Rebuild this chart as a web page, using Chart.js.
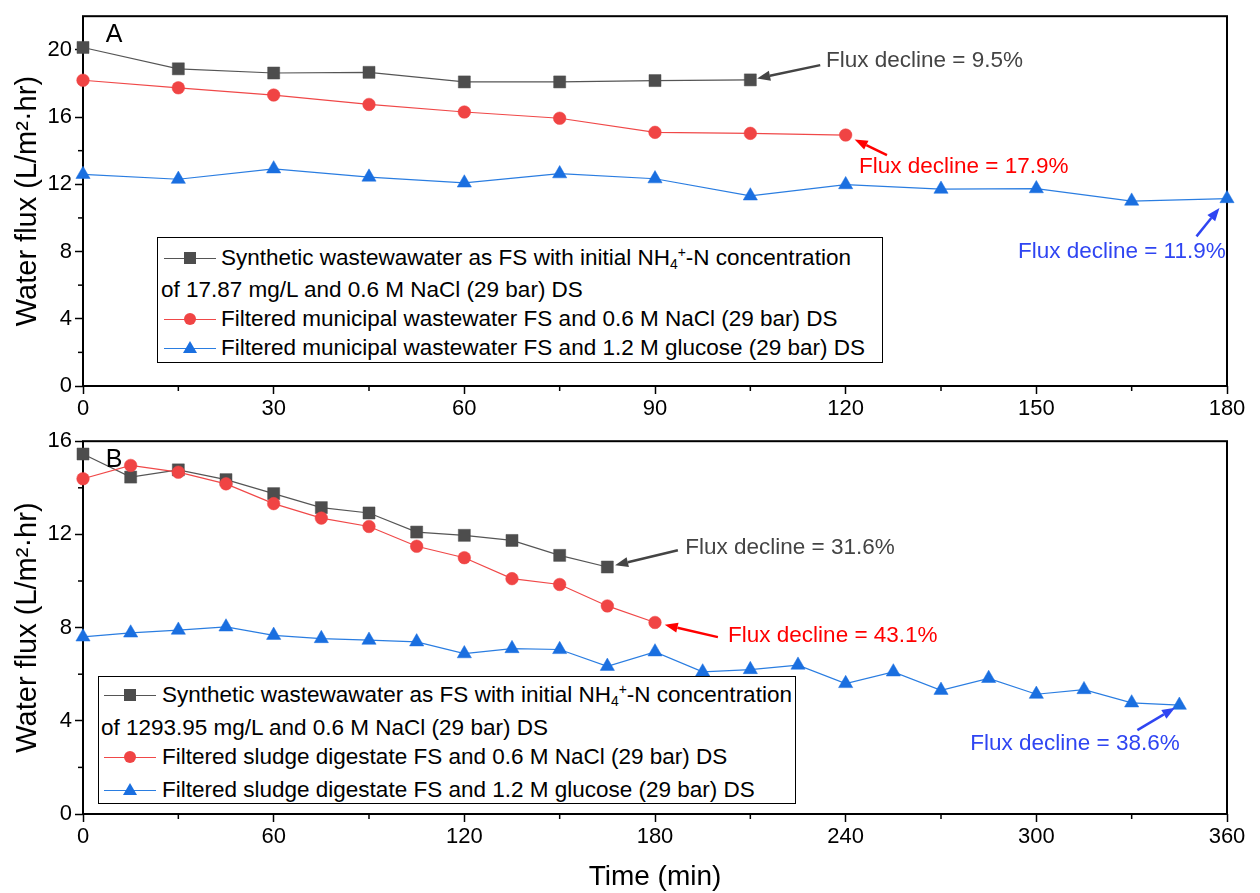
<!DOCTYPE html>
<html>
<head>
<meta charset="utf-8">
<script src="https://cdn.jsdelivr.net/npm/chart.js@4.4.0/dist/chart.umd.min.js"></script>
<style>
  body { margin: 0; background: #fff; font-family: "Liberation Sans", Arial, sans-serif; }
  #wrap { position: relative; width: 1260px; height: 893px; overflow: hidden; }
  canvas { position: absolute; left: 0; }
  .legend { position: absolute; border: 1px solid #000; background: #fff; font-size: 22.5px; color: #000; z-index: 2; }
  .row { position: absolute; white-space: nowrap; height: 30px; line-height: 30px; }
  .line { position: absolute; top: 15px; width: 52px; height: 0; border-top: 1px solid; }
  .sq { position: absolute; top: 9px; width: 12px; height: 12px; background: #4d4d4d; }
  .ci { position: absolute; top: 9px; width: 12px; height: 12px; border-radius: 50%; background: #f04444; }
  .tr { position: absolute; top: 8px; width: 0; height: 0; border-left: 7px solid transparent; border-right: 7px solid transparent; border-bottom: 12px solid #1a6fe0; }
  sub, sup { font-size: 0.62em; line-height: 0; }
  sub { vertical-align: -0.3em; }
  sup { vertical-align: 0.55em; }
</style>
</head>
<body>
<div id="wrap">
  <canvas id="chartA" width="1260" height="425" style="top:0"></canvas>
  <canvas id="chartB" width="1260" height="468" style="top:425px"></canvas>

  <div class="legend" style="left:157px; top:237px; width:724px; height:124px;">
    <div class="row" style="top:5px; left:0">
      <span class="line" style="left:6px; border-color:#555"></span><span class="sq" style="left:26px"></span>
      <span style="position:absolute; left:63px">Synthetic wastewawater as FS with initial NH<sub>4</sub><sup>+</sup>-N concentration</span>
    </div>
    <div class="row" style="top:37px; left:3px">of 17.87 mg/L and 0.6 M NaCl (29 bar) DS</div>
    <div class="row" style="top:66px; left:0">
      <span class="line" style="left:6px; border-color:#f04848"></span><span class="ci" style="left:26px"></span>
      <span style="position:absolute; left:63px">Filtered municipal wastewater FS and 0.6 M NaCl (29 bar) DS</span>
    </div>
    <div class="row" style="top:95px; left:0">
      <span class="line" style="left:6px; border-color:#2a7de1"></span><span class="tr" style="left:25px"></span>
      <span style="position:absolute; left:63px">Filtered municipal wastewater FS and 1.2 M glucose (29 bar) DS</span>
    </div>
  </div>

  <div class="legend" style="left:98px; top:676px; width:696px; height:126px;">
    <div class="row" style="top:3px; left:0">
      <span class="line" style="left:5px; border-color:#555"></span><span class="sq" style="left:25px"></span>
      <span style="position:absolute; left:63px">Synthetic wastewawater as FS with initial NH<sub>4</sub><sup>+</sup>-N concentration</span>
    </div>
    <div class="row" style="top:36px; left:2px">of 1293.95 mg/L and 0.6 M NaCl (29 bar) DS</div>
    <div class="row" style="top:65px; left:0">
      <span class="line" style="left:5px; border-color:#f04848"></span><span class="ci" style="left:25px"></span>
      <span style="position:absolute; left:63px">Filtered sludge digestate FS and 0.6 M NaCl (29 bar) DS</span>
    </div>
    <div class="row" style="top:98px; left:0">
      <span class="line" style="left:5px; border-color:#2a7de1"></span><span class="tr" style="left:24px"></span>
      <span style="position:absolute; left:63px">Filtered sludge digestate FS and 1.2 M glucose (29 bar) DS</span>
    </div>
  </div>
</div>

<script>
// panel A - municipal wastewater
const timeA = [0, 15, 30, 45, 60, 75, 90, 105, 120, 135, 150, 165, 180];
const synthA = [20.14, 18.87, 18.62, 18.66, 18.09, 18.09, 18.17, 18.21];
const muniNaclA = [18.19, 17.74, 17.31, 16.75, 16.3, 15.93, 15.09, 15.03, 14.93];
const muniGlucoseA = [12.59, 12.3, 12.92, 12.43, 12.08, 12.63, 12.33, 11.31, 11.98, 11.71, 11.74, 11.0, 11.15];
const xTicksA = [0, 30, 60, 90, 120, 150, 180];
const yTicksA = [0, 4, 8, 12, 16, 20];

// panel B - sludge digestate
const timeB = [0, 15, 30, 45, 60, 75, 90, 105, 120, 135, 150, 165, 180, 195, 210, 225, 240, 255, 270, 285, 300, 315, 330, 345];
const synthB = [15.45, 14.46, 14.77, 14.35, 13.75, 13.15, 12.92, 12.1, 11.96, 11.74, 11.1, 10.6];
const sludgeNaclB = [14.39, 14.96, 14.67, 14.17, 13.32, 12.7, 12.34, 11.49, 11.0, 10.1, 9.85, 8.93, 8.22];
const sludgeGlucoseB = [7.6, 7.77, 7.89, 8.03, 7.67, 7.53, 7.46, 7.39, 6.88, 7.1, 7.06, 6.34, 6.96, 6.1, 6.2, 6.39, 5.6, 6.1, 5.31, 5.82, 5.14, 5.34, 4.77, 4.67];
const xTicksB = [0, 60, 120, 180, 240, 300, 360];
const yTicksB = [0, 4, 8, 12, 16];

// flux decline labels: text, series index, where the text starts and where the arrow tail sits (data units)
const notesA = [
  { text: 'Flux decline = 9.5%', color: '#444444', series: 0, textAt: [116.9, 19.33], tail: [116, 19.09], gap: 7 },
  { text: 'Flux decline = 17.9%', color: '#ff0000', series: 1, textAt: [122.1, 13.02], tail: [126.5, 13.73], gap: 10 },
  { text: 'Flux decline = 11.9%', color: '#2f45f2', series: 2, textAt: [147.1, 7.97], tail: [175.2, 8.9], gap: 12 }
];
const notesB = [
  { text: 'Flux decline = 31.6%', color: '#444444', series: 0, textAt: [189.5, 11.44], tail: [187.2, 11.32], gap: 8 },
  { text: 'Flux decline = 43.1%', color: '#ff0000', series: 1, textAt: [203, 7.63], tail: [199.8, 7.59], gap: 10 },
  { text: 'Flux decline = 38.6%', color: '#2f45f2', series: 2, textAt: [279.2, 3.0], tail: [331.8, 3.6], gap: 5 }
];

Chart.defaults.font.family = '"Liberation Sans", Arial, sans-serif';
Chart.defaults.color = '#000';

function toPoints(times, values) {
  return values.map((v, i) => ({ x: times[i], y: v }));
}

function midpoints(ticks) {
  const out = [];
  for (let i = 1; i < ticks.length; i++) out.push((ticks[i - 1] + ticks[i]) / 2);
  return out;
}

// frame around the plot plus the short minor ticks
function framePlugin(xTicks, yTicks) {
  return {
    id: 'frame',
    beforeDatasetsDraw(chart) {
      const { ctx, chartArea: a, scales } = chart;
      ctx.save();
      ctx.strokeStyle = '#000';
      ctx.lineWidth = 1.5;
      midpoints(xTicks).forEach(v => {
        const px = scales.x.getPixelForValue(v);
        ctx.beginPath(); ctx.moveTo(px, a.bottom); ctx.lineTo(px, a.bottom + 5); ctx.stroke();
      });
      midpoints(yTicks).forEach(v => {
        const py = scales.y.getPixelForValue(v);
        ctx.beginPath(); ctx.moveTo(a.left, py); ctx.lineTo(a.left - 5, py); ctx.stroke();
      });
      ctx.lineWidth = 2;
      ctx.strokeRect(a.left, a.top, a.right - a.left, a.bottom - a.top);
      ctx.restore();
    }
  };
}

function notesPlugin(notes, panelLabel) {
  return {
    id: 'notes',
    afterDatasetsDraw(chart) {
      const { ctx, chartArea: a, scales } = chart;
      ctx.save();
      ctx.font = '25px "Liberation Sans", Arial, sans-serif';
      ctx.fillStyle = '#000';
      ctx.textAlign = 'center';
      ctx.textBaseline = 'middle';
      ctx.fillText(panelLabel, a.left + 31, a.top + 19);

      notes.forEach(n => {
        const pts = chart.getDatasetMeta(n.series).data;
        const target = pts[pts.length - 1];
        const tx = scales.x.getPixelForValue(n.tail[0]);
        const ty = scales.y.getPixelForValue(n.tail[1]);
        const ang = Math.atan2(target.y - ty, target.x - tx);
        const hx = target.x - Math.cos(ang) * n.gap;
        const hy = target.y - Math.sin(ang) * n.gap;
        const len = 13, half = 5;
        const bx = hx - Math.cos(ang) * len, by = hy - Math.sin(ang) * len;
        ctx.strokeStyle = n.color;
        ctx.fillStyle = n.color;
        ctx.lineWidth = 2.5;
        ctx.beginPath(); ctx.moveTo(tx, ty); ctx.lineTo(bx, by); ctx.stroke();
        ctx.beginPath();
        ctx.moveTo(hx, hy);
        ctx.lineTo(bx + Math.sin(ang) * half, by - Math.cos(ang) * half);
        ctx.lineTo(bx - Math.sin(ang) * half, by + Math.cos(ang) * half);
        ctx.closePath(); ctx.fill();

        ctx.font = '22.5px "Liberation Sans", Arial, sans-serif';
        ctx.textAlign = 'left';
        ctx.fillText(n.text, scales.x.getPixelForValue(n.textAt[0]), scales.y.getPixelForValue(n.textAt[1]));
      });
      ctx.restore();
    }
  };
}

function seriesStyle(kind) {
  if (kind === 'square') return { borderColor: '#555555', pointStyle: 'rect', pointRadius: 8.5, pointBackgroundColor: '#4d4d4d', pointBorderColor: '#4d4d4d', order: 2 };
  if (kind === 'circle') return { borderColor: '#f04848', pointStyle: 'circle', pointRadius: 6.3, pointBackgroundColor: '#f04444', pointBorderColor: '#f04444', order: 1 };
  return { borderColor: '#2a7de1', pointStyle: 'triangle', pointRadius: 8.2, pointBackgroundColor: '#1a6fe0', pointBorderColor: '#1a6fe0', order: 3 };
}

function buildPanel(id, cfg) {
  const datasets = cfg.series.map(s => Object.assign({
    data: s.points,
    borderWidth: 1.2,
    pointBorderWidth: 0.5,
    tension: 0,
    clip: false
  }, seriesStyle(s.kind)));

  new Chart(document.getElementById(id), {
    type: 'line',
    data: { datasets: datasets },
    options: {
      responsive: false,
      animation: false,
      events: [],
      layout: { padding: { top: cfg.padTop, right: 33, left: 0, bottom: 0 } },
      plugins: { legend: { display: false }, tooltip: { enabled: false } },
      scales: {
        x: {
          type: 'linear',
          min: 0,
          max: cfg.xTicks[cfg.xTicks.length - 1],
          afterBuildTicks: s => { s.ticks = cfg.xTicks.map(v => ({ value: v })); },
          afterFit: s => { s.height = cfg.xHeight; },
          ticks: { font: { size: 22 }, padding: 2, maxRotation: 0, autoSkip: false },
          grid: { drawOnChartArea: false, tickLength: 8, tickColor: '#000', tickWidth: 1.5 },
          border: { display: false },
          title: cfg.xTitle
            ? { display: true, text: cfg.xTitle, font: { size: 28, lineHeight: 1 }, padding: { top: 0, bottom: 2 } }
            : { display: false }
        },
        y: {
          min: 0,
          max: cfg.yMax,
          afterBuildTicks: s => { s.ticks = cfg.yTicks.map(v => ({ value: v })); },
          afterFit: s => { s.width = 83; },
          ticks: { font: { size: 22 }, padding: 3 },
          grid: { drawOnChartArea: false, tickLength: 8, tickColor: '#000', tickWidth: 1.5 },
          border: { display: false },
          title: { display: true, text: 'Water flux (L/m²·hr)', font: { size: 29 }, padding: { top: 11, bottom: 0 } }
        }
      }
    },
    plugins: [framePlugin(cfg.xTicks, cfg.yTicks), notesPlugin(cfg.notes, cfg.label)]
  });
}

buildPanel('chartA', {
  label: 'A',
  padTop: 13,
  xHeight: 39,
  yMax: 22,
  xTicks: xTicksA,
  yTicks: yTicksA,
  notes: notesA,
  series: [
    { kind: 'square', points: toPoints(timeA, synthA) },
    { kind: 'circle', points: toPoints(timeA, muniNaclA) },
    { kind: 'triangle', points: toPoints(timeA, muniGlucoseA) }
  ]
});

buildPanel('chartB', {
  label: 'B',
  padTop: 16,
  xHeight: 79,
  yMax: 16,
  xTicks: xTicksB,
  yTicks: yTicksB,
  xTitle: 'Time (min)',
  notes: notesB,
  series: [
    { kind: 'square', points: toPoints(timeB, synthB) },
    { kind: 'circle', points: toPoints(timeB, sludgeNaclB) },
    { kind: 'triangle', points: toPoints(timeB, sludgeGlucoseB) }
  ]
});
</script>
</body>
</html>
